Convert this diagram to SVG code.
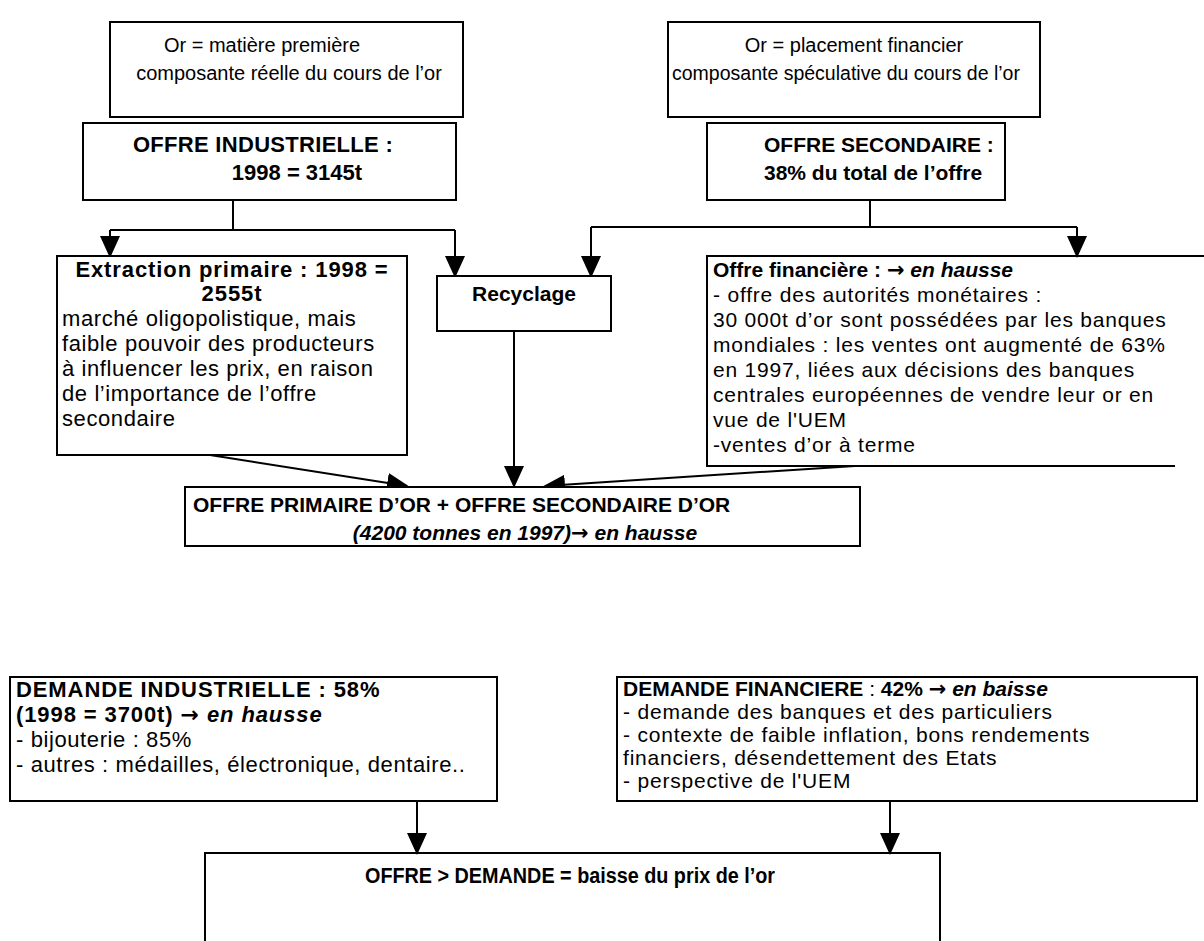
<svg xmlns="http://www.w3.org/2000/svg" width="1204" height="941" viewBox="0 0 1204 941">
<style>
.box{fill:#fff;stroke:#000;stroke-width:2}
.t{font-family:"Liberation Sans",Arial,sans-serif;font-size:20px;fill:#000}
.r{font-family:"Liberation Sans",Arial,sans-serif;font-size:21px;letter-spacing:0.8px;fill:#000}
.r2{font-family:"Liberation Sans",Arial,sans-serif;font-size:22px;letter-spacing:0.6px;fill:#000}
.b{font-family:"Liberation Sans",Arial,sans-serif;font-size:21px;font-weight:bold;fill:#000}
.b2{font-family:"Liberation Sans",Arial,sans-serif;font-size:22px;font-weight:bold;letter-spacing:0.9px;fill:#000}
.bi{font-weight:bold;font-style:italic}
.ar{font-family:"DejaVu Sans",sans-serif;font-weight:bold;font-style:normal}
.rg{font-weight:normal}
.c{text-anchor:middle}
.ln{fill:none;stroke:#000;stroke-width:2}
</style>
<defs>
<marker id="ah" markerWidth="22" markerHeight="22" refX="20" refY="10" orient="auto" markerUnits="userSpaceOnUse">
<path d="M0,0 L22,10 L0,20 Z" fill="#000"/>
</marker>
</defs>

<g id="connectors">
<path class="ln" d="M233,200 V230 M110,230 H455"/>
<path class="ln" d="M110,230 V256" marker-end="url(#ah)"/>
<path class="ln" d="M455,230 V276" marker-end="url(#ah)"/>
<path class="ln" d="M870,200 V227 M591,227 H1077"/>
<path class="ln" d="M591,227 V276" marker-end="url(#ah)"/>
<path class="ln" d="M1077,227 V256" marker-end="url(#ah)"/>
<path class="ln" d="M514,331 V486" marker-end="url(#ah)"/>
<path class="ln" d="M210,455 L407,486" marker-end="url(#ah)"/>
<path class="ln" d="M855,466 L545,486" marker-end="url(#ah)"/>
<path class="ln" d="M417,801 V853" marker-end="url(#ah)"/>
<path class="ln" d="M890,801 V853" marker-end="url(#ah)"/>
</g>

<g id="or-matiere">
<rect class="box" x="110" y="22" width="353" height="95"/>
<text class="t c" x="262" y="52">Or = matière première</text>
<text class="t c" x="289" y="80">composante réelle du cours de l’or</text>
</g>

<g id="or-placement">
<rect class="box" x="668" y="22" width="372" height="95"/>
<text class="t c" x="854" y="52">Or = placement financier</text>
<text class="t c" x="846" y="80" style="font-size:19.5px">composante spéculative du cours de l’or</text>
</g>

<g id="offre-industrielle">
<rect class="box" x="83" y="123" width="373" height="77"/>
<text class="b c" x="263" y="152" style="font-size:22px;letter-spacing:0.3px">OFFRE INDUSTRIELLE :</text>
<text class="b c" x="297" y="180" style="font-size:22px">1998 = 3145t</text>
</g>

<g id="offre-secondaire">
<rect class="box" x="707" y="123" width="298" height="77"/>
<text class="b" x="764" y="152">OFFRE SECONDAIRE :</text>
<text class="b" x="764" y="180">38% du total de l’offre</text>
</g>

<g id="extraction">
<rect class="box" x="57" y="256" width="350" height="199"/>
<text class="b2 c" x="232" y="277">Extraction primaire : 1998 =</text>
<text class="b2 c" x="232" y="301">2555t</text>
<text class="r2" x="62" y="326">marché oligopolistique, mais</text>
<text class="r2" x="62" y="351">faible pouvoir des producteurs</text>
<text class="r2" x="62" y="376">à influencer les prix, en raison</text>
<text class="r2" x="62" y="401">de l’importance de l’offre</text>
<text class="r2" x="62" y="426">secondaire</text>
</g>

<g id="recyclage">
<rect class="box" x="437" y="276" width="174" height="55"/>
<text class="b c" x="524" y="301">Recyclage</text>
</g>

<g id="offre-financiere">
<path class="ln" d="M1204,256 H707 V466 H1175"/>
<text class="b" x="713" y="277">Offre financière :  <tspan class="ar">→</tspan><tspan class="bi"> en hausse</tspan></text>
<text class="r" x="713" y="302">- offre des autorités monétaires :</text>
<text class="r" x="713" y="327">30 000t d’or sont possédées par les banques</text>
<text class="r" x="713" y="352">mondiales  : les ventes ont augmenté de 63%</text>
<text class="r" x="713" y="377">en 1997, liées aux décisions des banques</text>
<text class="r" x="713" y="402">centrales européennes de vendre leur or en</text>
<text class="r" x="713" y="427">vue de l'UEM</text>
<text class="r" x="713" y="452">-ventes d’or à terme</text>
</g>

<g id="offre-totale">
<rect class="box" x="185" y="487" width="675" height="59"/>
<text class="b" x="193" y="512">OFFRE PRIMAIRE D’OR + OFFRE SECONDAIRE D’OR</text>
<text class="b bi c" x="525" y="540">(4200 tonnes en 1997)<tspan class="ar">→</tspan> en hausse</text>
</g>

<g id="demande-industrielle">
<rect class="box" x="10" y="677" width="487" height="124"/>
<text class="b2" x="16" y="697">DEMANDE INDUSTRIELLE : 58%</text>
<text class="b2" x="16" y="722">(1998 = 3700t)  <tspan class="ar">→</tspan><tspan class="bi"> en hausse</tspan></text>
<text class="r2" x="16" y="747">- bijouterie : 85%</text>
<text class="r2" x="16" y="772">- autres : médailles, électronique, dentaire..</text>
</g>

<g id="demande-financiere">
<rect class="box" x="617" y="677" width="580" height="124"/>
<text class="b" x="623" y="696">DEMANDE FINANCIERE <tspan class="rg">:</tspan> 42% <tspan class="ar">→</tspan><tspan class="bi"> en baisse</tspan></text>
<text class="r" x="623" y="719">- demande des banques et des particuliers</text>
<text class="r" x="623" y="742">- contexte de faible inflation, bons rendements</text>
<text class="r" x="623" y="765">financiers, désendettement des Etats</text>
<text class="r" x="623" y="788">- perspective de l'UEM</text>
</g>

<g id="conclusion">
<path class="ln" d="M205,941 V853 H940 V941"/>
<text class="b c" x="570" y="883" style="font-size:22px" textLength="410" lengthAdjust="spacingAndGlyphs">OFFRE &gt; DEMANDE = baisse du prix de l’or</text>
</g>
</svg>
